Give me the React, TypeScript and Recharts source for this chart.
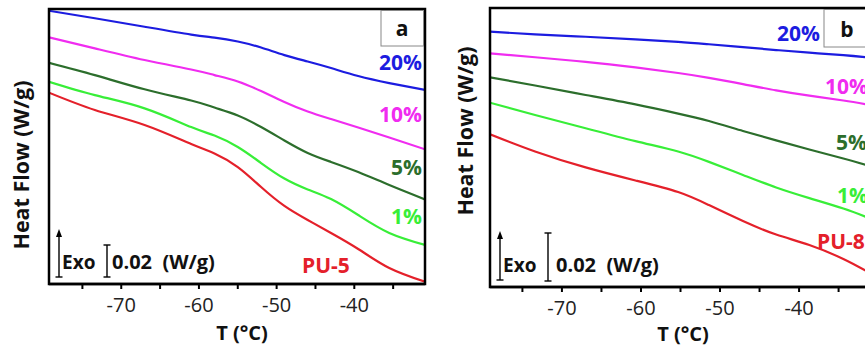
import React from "react";
import { LineChart, Line, XAxis, YAxis } from "recharts";

// Panel a (PU-5): temperature (°C) and heat flow (W/g, arbitrary offset)
const tempsA = [-79.3, -73.4, -67, -61, -58, -55, -52, -49, -46, -43, -39.5, -35.5, -30.9];
const pu5_20 = [0.1708, 0.1661, 0.1608, 0.1559, 0.154, 0.1516, 0.1478, 0.1431, 0.1391, 0.135, 0.13, 0.1256, 0.1213];
const pu5_10 = [0.1542, 0.1473, 0.14, 0.1341, 0.1306, 0.1266, 0.1206, 0.1138, 0.1078, 0.1031, 0.0978, 0.0916, 0.0842];
const pu5_5 = [0.1383, 0.1306, 0.1217, 0.1147, 0.1103, 0.1053, 0.0981, 0.0897, 0.0819, 0.0763, 0.07, 0.0619, 0.0529];
const pu5_1 = [0.1264, 0.1181, 0.1098, 0.0981, 0.0928, 0.0856, 0.0756, 0.0659, 0.0591, 0.0531, 0.0431, 0.0319, 0.0244];
const pu5_0 = [0.1196, 0.1088, 0.0994, 0.0875, 0.0816, 0.0731, 0.0606, 0.0488, 0.04, 0.0319, 0.0219, 0.01, 0.0014];

// Panel b (PU-8)
const tempsB = [-79.1, -73.4, -67, -60.7, -55.3, -51.4, -47.1, -42.9, -38.7, -34.4, -31.5];
const pu8_20 = [0.1057, 0.1046, 0.1036, 0.1025, 0.1015, 0.1005, 0.0993, 0.0981, 0.097, 0.096, 0.0951];
const pu8_10 = [0.0967, 0.0951, 0.0932, 0.0909, 0.0886, 0.0866, 0.084, 0.0814, 0.0792, 0.0772, 0.0756];
const pu8_5 = [0.0868, 0.0834, 0.0795, 0.0756, 0.0718, 0.0687, 0.0646, 0.0607, 0.0569, 0.0532, 0.0505];
const pu8_1 = [0.0763, 0.0712, 0.0657, 0.0604, 0.0561, 0.0518, 0.0464, 0.0412, 0.0368, 0.0325, 0.029];
const pu8_0 = [0.0632, 0.0561, 0.0495, 0.0441, 0.0393, 0.0339, 0.0273, 0.0217, 0.0174, 0.0116, 0.0066];

const xTicks = [-75, -70, -65, -60, -55, -50, -45, -40, -35];
const seriesKeys = ["s20", "s10", "s5", "s1", "s0"];
const seriesLabels = ["20%", "10%", "5%", "1%"];
const colors = ["#1c1ce0", "#f02cf0", "#2c6e2c", "#38ee38", "#e4202a"];

const FONT = "'Open Sans', sans-serif";

const buildRows = (temps: number[], cols: number[][]) =>
  temps.map((t, i) => {
    const row: any = { T: t };
    seriesKeys.forEach((k, j) => (row[k] = cols[j][i]));
    return row;
  });

const dataA = buildRows(tempsA, [pu5_20, pu5_10, pu5_5, pu5_1, pu5_0]);
const dataB = buildRows(tempsB, [pu8_20, pu8_10, pu8_5, pu8_1, pu8_0]);

const Tick = (props: any) => {
  const { x, y, payload } = props;
  if (payload.value % 10 !== 0) return <g />;
  return (
    <text x={x} y={y + 21} textAnchor="middle" fontFamily={FONT} fontSize={20} fill="#222">
      {payload.value}
    </text>
  );
};

const Panel = ({ data, domainX, domainY, width, margin }: any) => (
  <LineChart width={width} height={351} data={data} margin={margin}>
    <XAxis
      dataKey="T"
      type="number"
      domain={domainX}
      allowDataOverflow
      ticks={xTicks}
      tick={<Tick />}
      tickSize={5}
      height={30}
      axisLine={{ stroke: "#000", strokeWidth: 2.5 }}
      tickLine={{ stroke: "#000", strokeWidth: 2 }}
    />
    <YAxis hide domain={domainY} allowDataOverflow />
    {seriesKeys.map((k, i) => (
      <Line
        key={k}
        dataKey={k}
        type="natural"
        stroke={colors[i]}
        strokeWidth={2.2}
        dot={false}
        isAnimationActive={false}
      />
    ))}
  </LineChart>
);

const txt = (x: number, y: number, s: string, color: string, anchor: any = "start", size = 20) => (
  <text x={x} y={y} fill={color} fontFamily={FONT} fontWeight={700} fontSize={size} textAnchor={anchor}>
    {s}
  </text>
);

const ExoScale = ({ ax, ay0, ay1, bx, by0, by1, tx, sx, base }: any) => (
  <g>
    <line x1={ax} y1={ay0 + 7} x2={ax} y2={ay1} stroke="#000" strokeWidth={1.4} />
    <polygon points={`${ax},${ay0} ${ax - 3},${ay0 + 8} ${ax + 3},${ay0 + 8}`} fill="#000" />
    <line x1={ax - 3.5} y1={ay1} x2={ax + 3.5} y2={ay1} stroke="#000" strokeWidth={1.4} />
    <line x1={bx} y1={by0} x2={bx} y2={by1} stroke="#000" strokeWidth={1.4} />
    <line x1={bx - 3.5} y1={by0} x2={bx + 3.5} y2={by0} stroke="#000" strokeWidth={1.4} />
    <line x1={bx - 3.5} y1={by1} x2={bx + 3.5} y2={by1} stroke="#000" strokeWidth={1.4} />
    {txt(tx, base, "Exo", "#111", "start", 19)}
    <text x={sx} y={base} fill="#111" fontFamily={FONT} fontWeight={700} fontSize={20} xmlSpace="preserve">
      0.02  (W/g)
    </text>
  </g>
);

export default function App() {
  return (
    <div
      style={{
        position: "fixed",
        left: 0,
        top: 0,
        width: 865,
        height: 351,
        overflow: "hidden",
        background: "#fff",
      }}
    >
      <div style={{ position: "absolute", left: 0, top: 0 }}>
        <Panel
          data={dataA}
          domainX={[-79.3, -30.9]}
          domainY={[0, 0.1719]}
          width={440}
          margin={{ top: 9, right: 15, bottom: 37, left: 49 }}
        />
      </div>
      <div style={{ position: "absolute", left: 430, top: 0 }}>
        <Panel
          data={dataB}
          domainX={[-79.1, -30.9]}
          domainY={[0, 0.1155]}
          width={460}
          margin={{ top: 8, right: 19, bottom: 34, left: 60 }}
        />
      </div>
      <svg
        width={865}
        height={351}
        style={{ position: "absolute", left: 0, top: 0, pointerEvents: "none" }}
      >
        {/* frames */}
        <rect x={49} y={9} width={376} height={275} fill="none" stroke="#000" strokeWidth={2.5} />
        <rect x={490} y={8} width={381} height={279} fill="none" stroke="#000" strokeWidth={2.5} />

        {/* Panel a */}
        <rect x={381} y={10.5} width={42.5} height={35.5} fill="#fff" stroke="#888" strokeWidth={1} />
        {txt(402, 36, "a", "#111", "middle", 21)}
        {seriesLabels.map((s, i) =>
          txt(422, [70, 122, 175, 224][i], s, colors[i], "end", 21)
        )}
        {txt(302, 273, "PU-5", colors[4], "start", 21)}
        <ExoScale ax={59} ay0={229} ay1={277} bx={107} by0={245} by1={277} tx={62} sx={112} base={269} />
        <text x={242} y={340} textAnchor="middle" fontFamily={FONT} fontWeight={700} fontSize={20} fill="#111">
          T (°C)
        </text>
        <text
          transform="translate(29,165) rotate(-90)"
          textAnchor="middle"
          fontFamily={FONT}
          fontWeight={700}
          fontSize={21.5}
          fill="#111"
        >
          Heat Flow (W/g)
        </text>

        {/* Panel b */}
        <rect x={824} y={9.5} width={60} height={37.5} fill="#fff" stroke="#888" strokeWidth={1} />
        {txt(847, 37, "b", "#111", "middle", 21)}
        {txt(820, 41, "20%", colors[0], "end", 21)}
        {txt(825, 94, "10%", colors[1], "start", 21)}
        {txt(836, 150, "5%", colors[2], "start", 21)}
        {txt(837, 203, "1%", colors[3], "start", 21)}
        {txt(817, 249, "PU-8", colors[4], "start", 21)}
        <ExoScale ax={500} ay0={231} ay1={280} bx={548} by0={233} by1={281} tx={503} sx={556} base={272} />
        <text x={683} y={341} textAnchor="middle" fontFamily={FONT} fontWeight={700} fontSize={20} fill="#111">
          T (°C)
        </text>
        <text
          transform="translate(473,131) rotate(-90)"
          textAnchor="middle"
          fontFamily={FONT}
          fontWeight={700}
          fontSize={21.5}
          fill="#111"
        >
          Heat Flow (W/g)
        </text>
      </svg>
    </div>
  );
}
